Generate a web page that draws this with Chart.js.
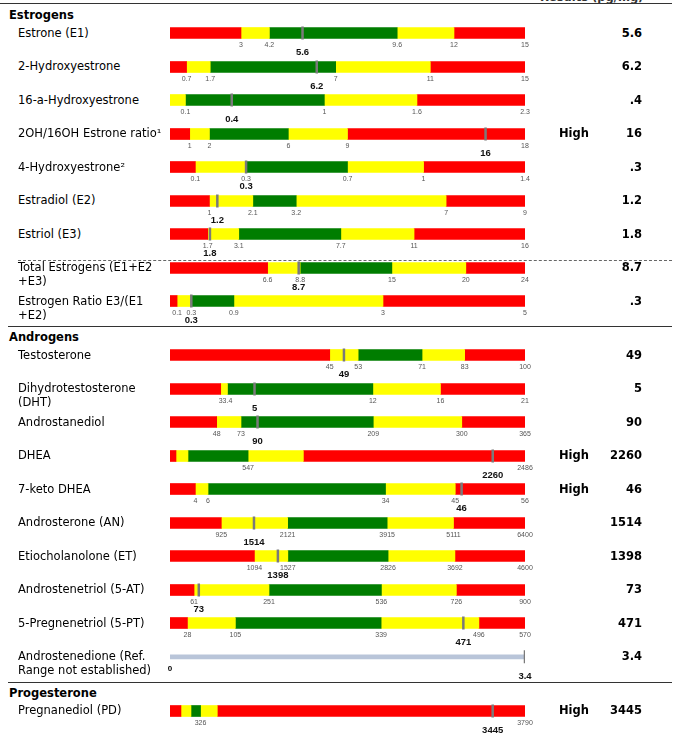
<!DOCTYPE html>
<html>
<head>
<meta charset="utf-8">
<script src="https://cdn.jsdelivr.net/npm/chart.js@4.4.1/dist/chart.umd.min.js"></script>
<style>
  body { margin: 0; width: 677px; height: 738px; position: relative; overflow: hidden; background: #fff;
         font-family: "DejaVu Sans", Verdana, sans-serif; color: #000; }
  .lbl { position: absolute; left: 18px; font-size: 11.5px; line-height: 14px; white-space: pre; }
  .sec { position: absolute; left: 9px; font-size: 11.5px; font-weight: bold; line-height: 14px; }
  .val { position: absolute; left: 540px; width: 102px; text-align: right; font-size: 11.5px; font-weight: bold; line-height: 14px; }
  .flag { position: absolute; left: 559px; font-size: 11.5px; font-weight: bold; line-height: 14px; }
  .rule { position: absolute; left: 8px; width: 664px; border-top: 1.5px solid #333; }
  .dash { position: absolute; left: 18px; width: 654px; border-top: 1.5px dashed #666; }
  canvas { position: absolute; left: 150px; }
</style>
</head>
<body>
<div style="position:absolute;left:540px;top:-10px;font-size:11.5px;font-weight:bold;color:#333">Results (pg/mg)</div>
<div class="rule" style="left:0;width:672px;top:3px"></div>
<script>
const sections = ['Estrogens', 'Androgens', 'Progesterone'];
const sectionOf = [0,0,0,0,0,0,0,0,0, 1,1,1,1,1,1,1,1,1,1, 2];
const names = [
  'Estrone (E1)', '2-Hydroxyestrone', '16-a-Hydroxyestrone', '2OH/16OH Estrone ratio¹',
  '4-Hydroxyestrone²', 'Estradiol (E2)', 'Estriol (E3)', 'Total Estrogens (E1+E2\n+E3)',
  'Estrogen Ratio E3/(E1\n+E2)',
  'Testosterone', 'Dihydrotestosterone\n(DHT)', 'Androstanediol', 'DHEA', '7-keto DHEA',
  'Androsterone (AN)', 'Etiocholanolone (ET)', 'Androstenetriol (5-AT)', '5-Pregnenetriol (5-PT)',
  'Androstenedione (Ref.\nRange not established)',
  'Pregnanediol (PD)'
];
const values = [5.6, 6.2, 0.4, 16, 0.3, 1.2, 1.8, 8.7, 0.3, 49, 5, 90, 2260, 46, 1514, 1398, 73, 471, 3.4, 3445];
const valueText = ['5.6','6.2','.4','16','.3','1.2','1.8','8.7','.3','49','5','90','2260','46','1514','1398','73','471','3.4','3445'];
const markerText = ['5.6','6.2','0.4','16','0.3','1.2','1.8','8.7','0.3','49','5','90','2260','46','1514','1398','73','471','3.4','3445'];
const flags = ['','','','High','','','','','','','','','High','High','','','','','','High'];
const rangeMax = [15, 15, 2.3, 18, 1.4, 9, 16, 24, 5, 100, 21, 365, 2486, 56, 6400, 4600, 900, 570, 3.4, 3790];
const cuts = [
  [3, 4.2, 9.6, 12], [0.7, 1.7, 7, 11], [0.1, 1, 1.6], [1, 2, 6, 9], [0.1, 0.3, 0.7, 1],
  [1, 2.1, 3.2, 7], [1.7, 3.1, 7.7, 11], [6.6, 8.8, 15, 20], [0.1, 0.3, 0.9, 3],
  [45, 53, 71, 83], [3, 3.4, 12, 16], [48, 73, 209, 300], [42, 126, 547, 934], [4, 6, 34, 45],
  [925, 2121, 3915, 5111], [1094, 1527, 2826, 3692], [61, 251, 536, 726], [28, 105, 339, 496],
  [], [117, 224, 326, 505]
];
const zones = ['RYGYR','RYGYR','YGYR','RYGYR','RYGYR','RYGYR','RYGYR','RYGYR','RYGYR',
  'RYGYR','RYGYR','RYGYR','RYGYR','RYGYR','RYGYR','RYGYR','RYGYR','RYGYR','N','RYGYR'];
const tickLabels = [
  [3, 4.2, 9.6, 12, 15], [0.7, 1.7, 7, 11, 15], [0.1, 1, 1.6, 2.3], [1, 2, 6, 9, 18], [0.1, 0.3, 0.7, 1, 1.4],
  [1, 2.1, 3.2, 7, 9], [1.7, 3.1, 7.7, 11, 16], [6.6, 8.8, 15, 20, 24], [0.1, 0.3, 0.9, 3, 5],
  [45, 53, 71, 83, 100], [3, 3.4, 12, 16, 21], [48, 73, 209, 300, 365], [547, 2486], [4, 6, 34, 45, 56],
  [925, 2121, 3915, 5111, 6400], [1094, 1527, 2826, 3692, 4600], [61, 251, 536, 726, 900], [28, 105, 339, 496, 570],
  [0], [326, 3790]
];

const zoneColor = { R: '#ff0000', Y: '#ffff00', G: '#007d00', N: '#b9c5d9' };

// bold result number under the marker
const markerLabel = {
  id: 'markerLabel',
  afterDatasetsDraw(chart, args, opts) {
    const ctx = chart.ctx;
    const px = chart.scales.x.getPixelForValue(opts.value);
    ctx.save();
    ctx.font = 'bold 9.5px "Liberation Sans", Arial, sans-serif';
    ctx.fillStyle = '#111';
    ctx.textAlign = 'center';
    ctx.textBaseline = 'middle';
    ctx.fillText(opts.text, px, 35);
    ctx.restore();
  }
};

let rowY = i => 33 + i * 33.5 + sectionOf[i] * 20.5;

let addDiv = (cls, text, top) => {
  let d = document.createElement('div');
  d.className = cls;
  d.textContent = text;
  d.style.top = top + 'px';
  document.body.appendChild(d);
  return d;
};

sections.forEach((s, k) => {
  let first = sectionOf.indexOf(k);
  let y = rowY(first);
  addDiv('sec', s, y - 25);
  if (k > 0) addDiv('rule', '', y - 29);
});
addDiv('dash', '', rowY(7) - 8);

names.forEach((name, i) => {
  let y = rowY(i);
  addDiv('lbl', name, y - 7.5);
  addDiv('val', valueText[i], y - 7.5);
  if (flags[i]) addDiv('flag', flags[i], y - 7.5);

  let cv = document.createElement('canvas');
  cv.width = 400; cv.height = 44;
  cv.style.top = (y - 16) + 'px';
  document.body.appendChild(cv);

  let edges = [0, ...cuts[i], rangeMax[i]];
  let segs = zones[i].split('').map((z, k) => ({
    data: [[edges[k], edges[k + 1]]],
    backgroundColor: zoneColor[z],
    barThickness: z === 'N' ? 4 : 11,
    grouped: false,
    order: 2
  }));
  let bold = zones[i] === 'N';

  new Chart(cv, {
    type: 'bar',
    data: {
      labels: ['r'],
      datasets: [...segs, {
        type: 'line',
        data: [{ x: values[i], y: 'r' }],
        showLine: false,
        pointStyle: 'line',
        rotation: 90,
        pointRadius: 6.5,
        pointBorderWidth: 2.5,
        pointBorderColor: '#7a7a7a',
        order: 0
      }]
    },
    options: {
      indexAxis: 'y',
      responsive: false,
      animation: false,
      events: [],
      layout: { padding: { left: 20, right: 25, top: 10, bottom: 10.6 } },
      plugins: {
        legend: { display: false },
        tooltip: { enabled: false },
        markerLabel: { value: values[i], text: markerText[i] }
      },
      scales: {
        y: { type: 'category', display: false },
        x: {
          type: 'linear', min: 0, max: rangeMax[i],
          grid: { display: false, drawTicks: false }, border: { display: false },
          afterBuildTicks: ax => { ax.ticks = tickLabels[i].map(v => ({ value: v })); },
          ticks: {
            autoSkip: false, maxRotation: 0, padding: 1.5,
            color: bold ? '#000' : '#555',
            font: { family: '"Liberation Sans", Arial, sans-serif', size: bold ? 8 : 7, weight: bold ? 'bold' : 'normal' },
            callback: v => String(v)
          }
        }
      }
    },
    plugins: [markerLabel]
  });
});
</script>
</body>
</html>
